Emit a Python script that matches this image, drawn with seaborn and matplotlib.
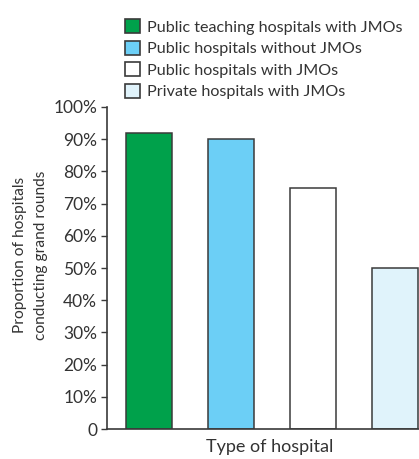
import pandas as pd
import seaborn as sns
import matplotlib.pyplot as plt
from matplotlib.patches import Patch

categories = [
    "Public teaching hospitals with JMOs",
    "Public hospitals without JMOs",
    "Public hospitals with JMOs",
    "Private hospitals with JMOs",
]
values = [92, 90, 75, 50]
colors = ["#00A14B", "#6CCFF6", "#FFFFFF", "#E0F3FB"]
yticks = [0, 10, 20, 30, 40, 50, 60, 70, 80, 90, 100]
ytick_labels = ["0"] + [f"{v}%" for v in yticks[1:]]


def makeChart():
    sns.set_style("white")
    plt.rcParams["font.family"] = ["Lato", "DejaVu Sans"]
    text_color = "#333333"
    edge = "#3a3a3a"

    df = pd.DataFrame({"type": categories, "value": values})
    palette = dict(zip(categories, colors))

    fig = plt.figure(figsize=(4.19, 4.59), dpi=100)
    ax = fig.add_axes([0.255, 0.065, 0.745, 0.702])

    sns.barplot(data=df, x="type", y="value", hue="type", palette=palette,
                order=categories, hue_order=categories, width=0.56,
                saturation=1, edgecolor=edge, linewidth=1.1, legend=False, ax=ax)

    ax.set_xlim(-0.51, 3.29)
    ax.set_ylim(0, 100)
    ax.set_yticks(yticks)
    ax.set_yticklabels(ytick_labels, fontsize=12.5, color=text_color)
    ax.set_xticks([])
    ax.tick_params(axis="y", direction="out", length=4, width=1, color=edge,
                   left=True, pad=3)
    ax.set_xlabel("Type of hospital", fontsize=13, color=text_color)
    ax.xaxis.set_label_coords(0.522, -0.03, transform=ax.transAxes)
    ax.xaxis.label.set_va("top")
    ax.set_ylabel("Proportion of hospitals\nconducting grand rounds",
                  fontsize=11.2, color=text_color, linespacing=1.55)
    ax.yaxis.set_label_coords(-0.19, 0.54, transform=ax.transAxes)
    for side in ["top", "right"]:
        ax.spines[side].set_visible(False)
    for side in ["left", "bottom"]:
        ax.spines[side].set_color(edge)
        ax.spines[side].set_linewidth(1.2)

    handles = [Patch(facecolor=c, edgecolor=edge, linewidth=1.2) for c in colors]
    fig.legend(handles, categories, loc="upper left",
               bbox_to_anchor=(0.282, 0.972), frameon=False, fontsize=11.6,
               handlelength=0.95, handleheight=0.95, handletextpad=0.45,
               labelspacing=0.37, borderaxespad=0, labelcolor=text_color)

    plt.savefig("out.png", dpi=100)


if __name__ == "__main__":
    makeChart()
